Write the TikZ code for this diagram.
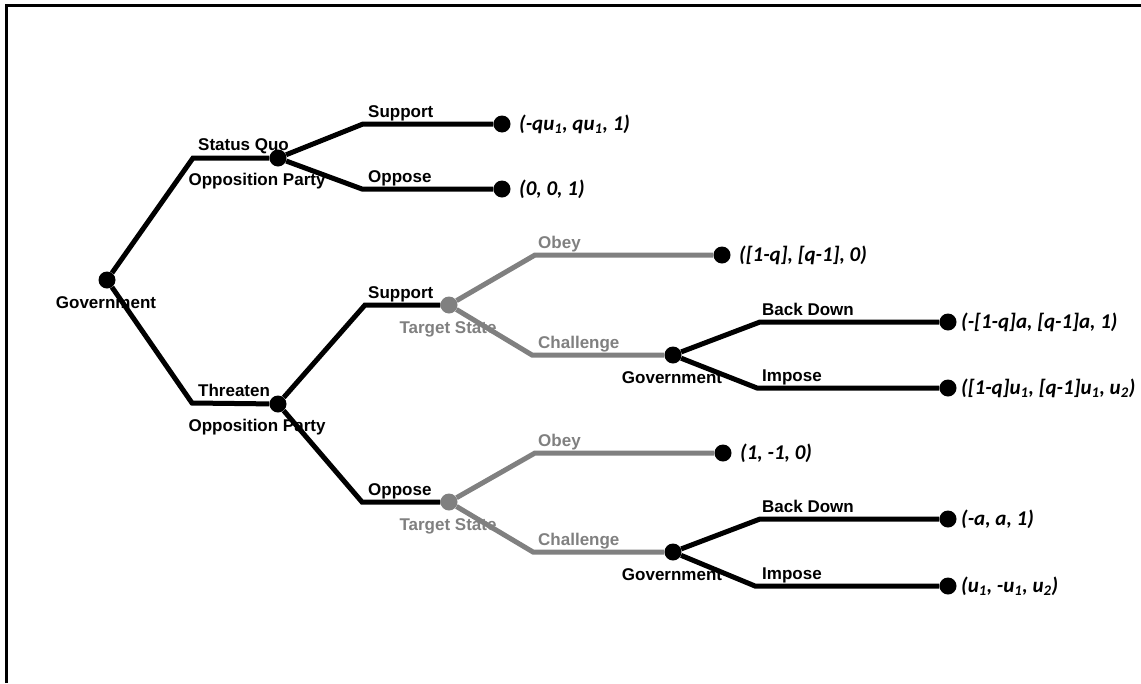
\documentclass[tikz,border=0pt]{standalone}
\usepackage{fontspec}
\setmainfont{Liberation Sans}
\newfontfamily\payfont{Carlito}
\usetikzlibrary{positioning}
\definecolor{movegray}{RGB}{128,128,128}
\tikzset{
  dot/.style={circle,fill=black,inner sep=0pt,minimum size=17pt},
  graydot/.style={dot,fill=movegray},
  branch/.style={line width=5pt},
  graybranch/.style={branch,draw=movegray},
  act/.style={inner sep=0pt,font=\bfseries\fontsize{17}{20}\selectfont},
  player/.style={act,anchor=base},
  move/.style={act,anchor=base west},
  pay/.style={font=\payfont\bfseries\itshape\fontsize{21}{24}\selectfont}
}

\begin{document}
\begin{tikzpicture}[x=1pt,y=-1pt]
    \useasboundingbox (0,0) rectangle (1141,683);
    \draw[line width=3pt] (6.5,683) -- (6.5,5.5) -- (1141,5.5);

    % decision nodes
    \node[dot] (gov) at (107,280) {};
    \node[dot] (opp1) at (278,158) {};
    \node[dot] (opp2) at (278,404) {};
    \node[graydot] (ts1) at (449,305) {};
    \node[graydot] (ts2) at (449,502) {};
    \node[dot] (gov2) at (673,355) {};
    \node[dot] (gov3) at (673,552) {};

    % outcomes
    \node[dot] (t1) at (502,124) {};
    \node[dot] (t2) at (502,189) {};
    \node[dot] (t3) at (722,255) {};
    \node[dot] (t4) at (948,322) {};
    \node[dot] (t5) at (948,388) {};
    \node[dot] (t6) at (723,453) {};
    \node[dot] (t7) at (948,519) {};
    \node[dot] (t8) at (948,586) {};

    % bends
    \coordinate (sq) at (193,158);
    \coordinate (th) at (192,403);
    \coordinate (s1) at (363,124);
    \coordinate (o1) at (362,189);
    \coordinate (s2) at (365,305);
    \coordinate (o2) at (362,502);
    \coordinate (ob1) at (535,255);
    \coordinate (ch1) at (532,355);
    \coordinate (ob2) at (535,453);
    \coordinate (ch2) at (533,552);
    \coordinate (bd1) at (760,322);
    \coordinate (im1) at (757,388);
    \coordinate (bd2) at (760,519);
    \coordinate (im2) at (755,586);

    \draw[branch] (gov) -- (sq) -- (opp1);
    \draw[branch] (gov) -- (th) -- (opp2);
    \draw[branch] (opp1) -- (s1) -- (t1);
    \draw[branch] (opp1) -- (o1) -- (t2);
    \draw[branch] (opp2) -- (s2) -- (ts1);
    \draw[branch] (opp2) -- (o2) -- (ts2);
    \draw[graybranch] (ts1) -- (ob1) -- (t3);
    \draw[graybranch] (ts1) -- (ch1) -- (gov2);
    \draw[graybranch] (ts2) -- (ob2) -- (t6);
    \draw[graybranch] (ts2) -- (ch2) -- (gov3);
    \draw[branch] (gov2) -- (bd1) -- (t4);
    \draw[branch] (gov2) -- (im1) -- (t5);
    \draw[branch] (gov3) -- (bd2) -- (t7);
    \draw[branch] (gov3) -- (im2) -- (t8);

    % players
    \node[player] (lgov) at (106,308) {Government};
    \node[player] (lopp1) at (257,185) {Opposition Party};
    \node[player] (lopp2) at (257,431) {Opposition Party};
    \node[player,movegray] (lts1) at (448,333) {Target State};
    \node[player,movegray] (lts2) at (448,530) {Target State};
    \node[player] (lgov2) at (672,383) {Government};
    \node[player] (lgov3) at (672,580) {Government};

    % moves
    \node[move] (msq) at (198,150) {Status Quo};
    \node[move] (mth) at (198,396) {Threaten};
    \node[move] (ms1) at (368,117) {Support};
    \node[move] (mo1) at (368,182) {Oppose};
    \node[move] (ms2) at (368,298) {Support};
    \node[move] (mo2) at (368,495) {Oppose};
    \node[move,movegray] (mob1) at (538,248) {Obey};
    \node[move,movegray] (mch1) at (538,348) {Challenge};
    \node[move,movegray] (mob2) at (538,446) {Obey};
    \node[move,movegray] (mch2) at (538,545) {Challenge};
    \node[move] (mbd1) at (762,315) {Back Down};
    \node[move] (mim1) at (762,381) {Impose};
    \node[move] (mbd2) at (762,512) {Back Down};
    \node[move] (mim2) at (762,579) {Impose};

    % payoffs
    \node[pay,right=5pt of t1] (p1) {(-qu\textsubscript{1}, qu\textsubscript{1}, 1)};
    \node[pay,right=5pt of t2] (p2) {(0, 0, 1)};
    \node[pay,right=5pt of t3] (p3) {([1-q], [q-1], 0)};
    \node[pay,right=1pt of t4] (p4) {(-[1-q]a, [q-1]a, 1)};
    \node[pay,right=1pt of t5] (p5) {([1-q]u\textsubscript{1}, [q-1]u\textsubscript{1}, u\textsubscript{2})};
    \node[pay,right=5pt of t6] (p6) {(1, -1, 0)};
    \node[pay,right=1pt of t7] (p7) {(-a, a, 1)};
    \node[pay,right=1pt of t8] (p8) {(u\textsubscript{1}, -u\textsubscript{1}, u\textsubscript{2})};
\end{tikzpicture}
\end{document}
